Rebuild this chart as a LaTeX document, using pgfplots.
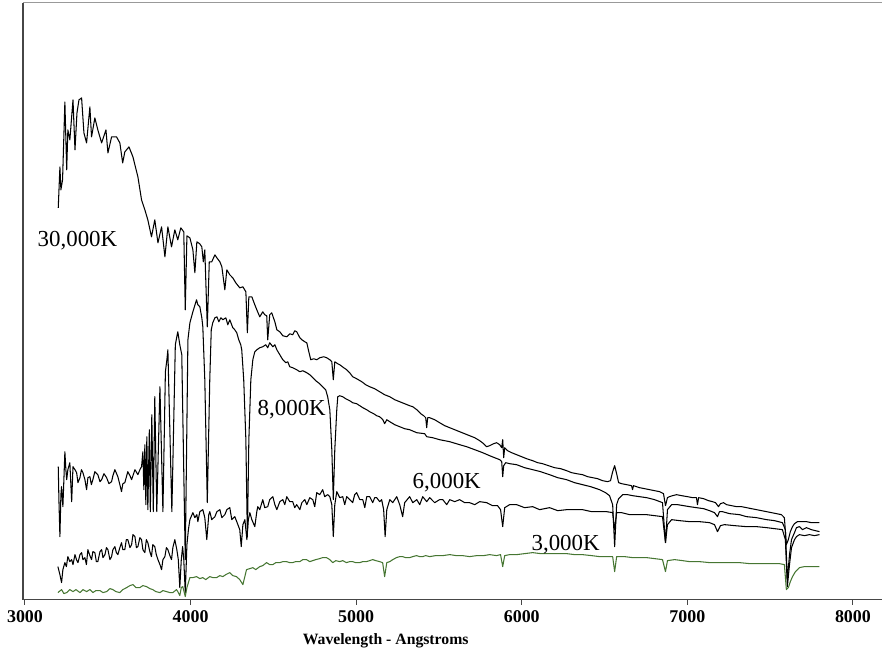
\documentclass[border=0pt]{standalone}
\usepackage{pgfplots}
\pgfplotsset{compat=1.18}
\usepackage{fontspec}
\setmainfont{Liberation Serif}
\definecolor{specgreen}{RGB}{70,118,50}
\definecolor{axgray}{RGB}{70,70,70}
\begin{document}
\begin{tikzpicture}
\begin{axis}[
  scale only axis,
  width=860bp, height=597bp,
  xmin=2988, xmax=8178, ymin=0, ymax=597,
  axis x line*=bottom, axis y line*=left,
  axis line style={-, axgray, line width=1.2bp},
  xtick={3000,4000,5000,6000,7000,8000},
  xticklabels={\textbf{3000},\textbf{4000},\textbf{5000},\textbf{6000},\textbf{7000},\textbf{8000}},
  ytick=\empty,
  tick align=outside, major tick length=5bp,
  xtick style={axgray, line width=1bp},
  xticklabel style={font=\fontsize{18}{18}\selectfont, yshift=-2bp},
  xlabel={Wavelength - Angstroms},
  xlabel style={font=\fontsize{15.8}{16}\selectfont\bfseries, at={(axis description cs:0.422,0)}, anchor=center, yshift=-41bp},
  clip=false,
  every axis plot/.append style={line width=1.05bp, line join=round},
]
% 30,000K
\addplot[black] coordinates {
(3201,392)(3211,433)(3217,410)(3227,420)(3241,498)(3252,430)(3259,470)(3271,460)(3290,500)(3302,450)
(3314,487)(3326,500)(3342,502)(3356,467)(3372,457)(3392,493)(3402,463)(3422,482)(3440,470)(3463,457)
(3489,470)(3501,447)(3523,463)(3553,463)(3573,457)(3590,437)(3603,448)(3628,453)(3652,443)(3682,423)
(3704,400)(3724,390)(3742,380)(3764,363)(3784,380)(3803,357)(3825,373)(3845,343)(3863,373)(3885,353)
(3905,370)(3923,360)(3941,372)(3959,368)(3968,290)(3978,364)(3996,362)(4014,350)(4026,327)(4038,358)
(4056,356)(4068,353)(4077,338)(4086,350)(4101,273)(4113,338)(4128,338)(4147,345)(4159,342)(4177,338)
(4189,333)(4207,310)(4219,330)(4237,325)(4255,322)(4273,317)(4297,312)(4316,313)(4334,308)(4343,267)
(4352,303)(4370,303)(4388,295)(4400,290)(4418,283)(4436,288)(4448,285)(4460,284)(4466,260)(4478,285)
(4490,287)(4509,278)(4521,270)(4539,268)(4557,264)(4581,263)(4599,266)(4617,265)(4629,269)(4641,268)
(4660,262)(4672,260)(4690,258)(4702,257)(4714,248)(4726,240)(4744,241)(4762,240)(4780,242)(4804,243)
(4822,242)(4841,240)(4853,238)(4862,220)(4871,238)(4889,236)(4901,235)(4925,232)(4943,230)(4961,227)
(4979,223)(5003,221)(5034,218)(5058,215)(5082,213)(5112,211)(5142,208)(5172,205)(5203,203)(5233,200)
(5263,198)(5293,196)(5323,194)(5342,193)(5366,190)(5390,186)(5408,184)(5420,182)(5426,172)(5432,182)
(5444,182)(5474,180)(5504,177)(5535,174)(5565,172)(5595,170)(5625,168)(5655,166)(5685,164)(5716,162)
(5746,159)(5770,156)(5788,153)(5806,154)(5830,156)(5848,157)(5867,155)(5879,152)(5885,160)(5891,142)
(5897,152)(5915,149)(5939,147)(5969,145)(5999,143)(6029,141)(6066,139)(6096,137)(6126,136)(6162,134)
(6198,132)(6235,131)(6271,129)(6301,127)(6331,126)(6367,125)(6398,123)(6428,122)(6458,121)(6488,119)
(6518,118)(6536,119)(6549,128)(6561,134)(6573,126)(6585,117)(6603,116)(6633,115)(6663,114)(6669,110)
(6675,114)(6711,112)(6742,111)(6772,110)(6802,109)(6832,108)(6856,106)(6868,94)(6880,102)(6892,103)
(6911,104)(6935,105)(6965,104)(7001,103)(7031,102)(7055,102)(7061,95)(7068,102)(7098,101)(7128,99)
(7152,98)(7170,97)(7188,93)(7200,96)(7218,97)(7237,95)(7267,94)(7297,93)(7327,93)(7357,92)
(7387,91)(7418,90)(7448,89)(7478,88)(7508,87)(7538,86)(7568,85)(7586,82)(7598,55)(7610,60)
(7622,68)(7635,73)(7647,76)(7665,78)(7689,78)(7719,78)(7749,77)(7773,77)(7798,77)
};
% 8,000K
\addplot[black] coordinates {
(3201,133)(3205,100)(3211,63)(3217,105)(3221,113)(3229,93)(3235,120)(3241,148)(3247,130)(3252,120)
(3259,130)(3271,137)(3282,98)(3290,133)(3302,130)(3312,127)(3320,117)(3332,122)(3341,130)(3350,127)
(3362,120)(3372,110)(3380,122)(3392,123)(3401,115)(3410,120)(3422,128)(3440,125)(3453,118)(3463,120)
(3477,126)(3493,122)(3507,116)(3523,118)(3531,124)(3543,130)(3561,123)(3573,115)(3583,108)(3591,116)
(3603,117)(3621,128)(3634,124)(3644,120)(3652,124)(3664,130)(3682,125)(3694,130)(3704,133)(3712,148)
(3718,110)(3724,155)(3730,95)(3736,163)(3742,90)(3751,170)(3757,88)(3766,185)(3775,88)(3784,203)
(3796,88)(3815,213)(3833,88)(3848,228)(3857,240)(3863,250)(3887,88)(3908,255)(3917,263)(3923,268)
(3935,255)(3947,245)(3968,40)(3984,260)(3996,277)(4014,288)(4036,300)(4044,295)(4056,293)(4068,282)
(4074,273)(4086,220)(4101,97)(4116,220)(4125,270)(4134,277)(4147,282)(4159,283)(4171,278)(4183,282)
(4195,280)(4213,282)(4225,275)(4237,280)(4255,272)(4267,270)(4279,267)(4291,260)(4303,255)(4309,250)
(4321,220)(4334,160)(4343,63)(4352,160)(4364,220)(4376,240)(4388,248)(4400,250)(4418,252)(4436,253)
(4454,255)(4466,252)(4478,257)(4497,253)(4509,255)(4521,250)(4539,245)(4557,240)(4575,237)(4587,238)
(4599,233)(4617,232)(4641,230)(4660,228)(4678,229)(4702,227)(4720,225)(4738,222)(4756,219)(4780,216)
(4798,213)(4816,210)(4828,203)(4841,190)(4853,150)(4862,100)(4871,150)(4883,190)(4889,203)(4901,204)
(4919,203)(4937,201)(4961,199)(4979,197)(5003,196)(5022,194)(5040,192)(5064,190)(5082,188)(5106,186)
(5124,184)(5142,183)(5161,180)(5172,176)(5185,180)(5203,178)(5233,175)(5263,173)(5293,171)(5323,170)
(5366,167)(5414,166)(5426,163)(5462,162)(5504,160)(5565,158)(5625,155)(5667,153)(5716,150)(5764,147)
(5806,144)(5836,142)(5867,140)(5879,138)(5885,123)(5891,134)(5903,137)(5927,136)(5969,135)(6017,132)
(6066,130)(6114,128)(6168,125)(6217,122)(6271,120)(6319,117)(6367,115)(6416,113)(6470,110)(6506,107)
(6530,104)(6549,95)(6561,53)(6573,95)(6585,101)(6609,105)(6639,105)(6669,104)(6711,103)(6754,102)
(6802,100)(6850,97)(6868,57)(6880,90)(6905,95)(6941,95)(6977,94)(7013,93)(7055,92)(7098,91)
(7134,89)(7164,87)(7182,83)(7194,88)(7212,88)(7255,86)(7315,85)(7357,83)(7418,82)(7478,80)
(7526,79)(7574,77)(7592,70)(7604,20)(7617,45)(7629,60)(7647,67)(7659,72)(7677,73)(7695,70)
(7719,72)(7749,70)(7773,69)(7798,68)
};
% 6,000K
\addplot[black] coordinates {
(3199,33)(3211,25)(3221,17)(3229,30)(3241,37)(3250,33)(3259,43)(3271,38)(3282,40)(3290,35)
(3302,45)(3311,40)(3320,37)(3332,45)(3342,47)(3350,40)(3362,42)(3371,35)(3380,50)(3392,44)
(3402,40)(3410,48)(3422,47)(3431,38)(3440,38)(3453,48)(3463,50)(3471,42)(3483,45)(3492,52)
(3501,50)(3513,40)(3523,43)(3531,50)(3543,53)(3552,47)(3561,45)(3573,52)(3583,57)(3591,50)
(3603,50)(3612,60)(3621,60)(3634,52)(3644,55)(3652,65)(3664,63)(3673,52)(3682,53)(3694,62)
(3704,60)(3712,50)(3724,47)(3733,60)(3742,57)(3754,48)(3764,43)(3772,55)(3784,53)(3793,45)
(3803,40)(3815,35)(3825,30)(3833,40)(3845,43)(3854,52)(3863,50)(3875,44)(3885,40)(3893,52)
(3905,60)(3917,50)(3926,40)(3935,12)(3944,40)(3952,53)(3959,40)(3968,7)(3978,55)(3987,70)
(3996,80)(4014,87)(4026,82)(4038,85)(4044,78)(4056,88)(4074,90)(4086,82)(4098,60)(4110,85)
(4116,88)(4128,80)(4147,83)(4159,88)(4177,90)(4189,82)(4207,85)(4219,90)(4237,92)(4249,80)
(4267,83)(4279,78)(4297,70)(4306,53)(4316,75)(4328,80)(4340,60)(4349,80)(4358,87)(4370,80)
(4388,73)(4400,88)(4406,93)(4418,90)(4436,100)(4448,92)(4466,93)(4478,100)(4497,103)(4509,95)
(4521,90)(4539,98)(4557,100)(4569,95)(4581,103)(4599,98)(4617,98)(4629,92)(4641,95)(4660,90)
(4672,97)(4690,100)(4702,95)(4720,102)(4738,100)(4750,93)(4762,107)(4780,105)(4798,110)(4810,103)
(4828,105)(4841,103)(4853,95)(4862,63)(4871,95)(4883,108)(4901,102)(4919,103)(4931,95)(4943,103)
(4961,100)(4979,97)(4991,105)(5003,107)(5022,100)(5040,100)(5052,92)(5064,103)(5082,103)(5100,97)
(5112,102)(5124,102)(5142,98)(5154,100)(5166,90)(5175,63)(5185,90)(5203,100)(5221,97)(5245,103)
(5263,95)(5281,83)(5293,97)(5323,103)(5342,97)(5366,100)(5384,95)(5402,103)(5426,98)(5444,102)
(5474,97)(5504,100)(5523,100)(5547,95)(5565,100)(5595,98)(5625,100)(5655,97)(5685,97)(5716,95)
(5746,98)(5788,97)(5824,94)(5854,94)(5872,90)(5885,73)(5897,92)(5927,95)(5969,95)(6017,92)
(6066,93)(6108,90)(6168,92)(6217,89)(6271,90)(6319,90)(6367,90)(6422,88)(6470,88)(6512,88)
(6549,87)(6561,70)(6573,87)(6603,87)(6651,85)(6711,85)(6754,85)(6802,84)(6850,83)(6868,57)
(6880,75)(6905,80)(6953,79)(7013,78)(7073,78)(7134,77)(7164,75)(7182,68)(7200,74)(7224,75)
(7285,74)(7357,73)(7418,73)(7478,72)(7526,71)(7574,70)(7592,60)(7604,13)(7617,35)(7629,52)
(7647,60)(7659,63)(7677,65)(7707,64)(7737,65)(7767,64)(7798,65)
};
% 3,000K
\addplot[specgreen] coordinates {
(3199,7)(3221,10)(3235,6)(3252,7)(3271,10)(3290,8)(3308,10)(3332,7)(3350,10)(3372,8)
(3392,10)(3410,7)(3428,9)(3453,9)(3471,7)(3493,8)(3513,11)(3531,10)(3549,8)(3573,7)
(3591,10)(3614,12)(3634,14)(3652,15)(3670,12)(3694,12)(3712,14)(3734,13)(3754,11)(3772,10)
(3790,8)(3815,7)(3833,9)(3855,8)(3875,7)(3893,7)(3915,10)(3923,8)(3935,4)(3944,12)
(3953,13)(3968,3)(3978,12)(3996,22)(4014,22)(4036,23)(4056,21)(4074,22)(4092,20)(4116,23)
(4134,22)(4157,22)(4177,24)(4195,23)(4213,25)(4237,27)(4255,24)(4277,23)(4297,20)(4316,15)
(4338,30)(4358,31)(4376,32)(4394,30)(4418,33)(4436,34)(4459,37)(4478,35)(4497,35)(4515,37)
(4539,37)(4557,38)(4579,38)(4599,37)(4617,37)(4635,38)(4660,38)(4678,40)(4700,40)(4720,38)
(4738,39)(4756,40)(4780,41)(4798,42)(4821,42)(4841,40)(4859,37)(4877,39)(4901,38)(4919,39)
(4941,37)(4961,38)(4979,38)(4997,37)(5022,37)(5040,38)(5062,38)(5082,39)(5100,40)(5118,39)
(5142,38)(5160,37)(5172,23)(5185,37)(5203,38)(5221,40)(5243,42)(5263,43)(5281,43)(5299,42)
(5323,42)(5342,43)(5364,44)(5384,43)(5402,43)(5420,44)(5444,43)(5480,44)(5523,44)(5565,45)
(5605,44)(5643,44)(5685,43)(5728,44)(5770,44)(5806,45)(5848,44)(5872,45)(5885,33)(5897,44)
(5927,45)(5969,45)(6017,46)(6066,47)(6114,46)(6168,46)(6217,46)(6271,46)(6319,45)(6367,45)
(6422,44)(6470,43)(6512,43)(6549,43)(6561,28)(6573,43)(6621,43)(6669,42)(6711,42)(6754,42)
(6802,41)(6850,40)(6868,28)(6880,39)(6923,40)(6971,39)(7013,38)(7073,38)(7134,37)(7194,37)
(7255,37)(7315,37)(7375,36)(7436,36)(7496,36)(7556,36)(7586,35)(7598,10)(7610,12)(7622,18)
(7635,23)(7653,28)(7677,32)(7707,33)(7737,33)(7767,33)(7798,33)
};
\draw[gray!80, line width=1bp] (rel axis cs:0,1) -- (rel axis cs:1,1);
\node[font=\fontsize{23}{23}\selectfont] at (axis cs:3317,359) {30,000K};
\node[font=\fontsize{23}{23}\selectfont] at (axis cs:4611,190) {8,000K};
\node[font=\fontsize{23}{23}\selectfont] at (axis cs:5547,117) {6,000K};
\node[font=\fontsize{23}{23}\selectfont] at (axis cs:6265,55) {3,000K};
\end{axis}
\path (current axis.south west) ++(-23bp,-58bp) coordinate (bbA);
\path (current axis.north east) ++(0bp,3bp) coordinate (bbB);
\path (bbA) rectangle (bbB);
\end{tikzpicture}
\end{document}
